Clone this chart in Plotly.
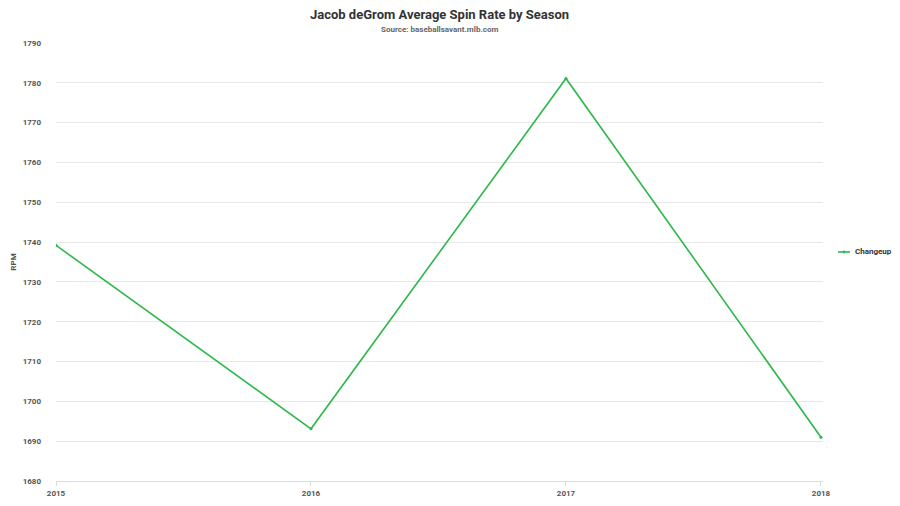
import plotly.graph_objects as go

# data
seasons = [2015, 2016, 2017, 2018]
changeup_rpm = [1739.2, 1693.1, 1781.1, 1691.0]
y_ticks = [1680, 1690, 1700, 1710, 1720, 1730, 1740, 1750, 1760, 1770, 1780, 1790]
series_name = "Changeup"

font_family = "Roboto, 'Open Sans', sans-serif"
color_line = "#2cb84a"

fig = go.Figure()
fig.add_trace(go.Scatter(
    x=seasons,
    y=changeup_rpm,
    mode="lines+markers",
    name=series_name,
    line=dict(color=color_line, width=1.6),
    marker=dict(size=3, color=color_line),
    showlegend=False,
))

# compact legend entry (plotly's own legend symbol is too wide for the right margin)
legend_y = 0.523
fig.add_shape(type="line", xref="paper", yref="paper", x0=1.0196, x1=1.0352,
              y0=legend_y, y1=legend_y, line=dict(color=color_line, width=1.6))
fig.add_shape(type="circle", xref="paper", yref="paper", x0=1.0258, x1=1.0290,
              y0=legend_y - 0.0034, y1=legend_y + 0.0034,
              fillcolor=color_line, line=dict(width=0))

# the page body has an 8px margin, so the figure is sized to fit the window
fig.update_layout(
    width=892,
    height=498,
    paper_bgcolor="white",
    plot_bgcolor="white",
    margin=dict(l=48, r=77, t=35, b=25, autoexpand=False),
    font=dict(family=font_family, color="#555555", size=8),
    annotations=[
        dict(text="<b>Jacob deGrom Average Spin Rate by Season</b>", x=0.5, y=1, xref="paper",
             yref="paper", yanchor="bottom", yshift=19, showarrow=False,
             font=dict(size=13, color="#333333", family=font_family)),
        dict(text="<b>Source: baseballsavant.mlb.com</b>", x=0.5, y=1, xref="paper", yref="paper",
             yanchor="bottom", yshift=7, showarrow=False,
             font=dict(size=8, color="#666666", family=font_family)),
        dict(text=f"<b>{series_name}</b>", x=1.0391, y=legend_y, xref="paper", yref="paper",
             xanchor="left", yanchor="middle", showarrow=False,
             font=dict(size=8, color="#333333", family=font_family)),
    ],
)

fig.update_xaxes(
    range=[2015, 2018.008],
    tickvals=seasons,
    ticktext=[str(s) for s in seasons],
    showgrid=False,
    showline=True,
    linecolor="#d8dde6",
    linewidth=1,
    ticks="outside",
    tickcolor="#d8dde6",
    ticklen=4,
    tickfont=dict(size=8, color="#555555", weight="bold"),
    zeroline=False,
    automargin=False,
)
fig.update_yaxes(
    range=[1680, 1790],
    tickvals=y_ticks,
    showgrid=True,
    gridcolor="#e8e8e8",
    gridwidth=1,
    zeroline=False,
    ticklabelstandoff=14,
    tickfont=dict(size=8, color="#555555", weight="bold"),
    title=dict(text="RPM", font=dict(size=8, color="#555555", weight="bold"), standoff=4),
    automargin=False,
)

fig.write_html("out.html")
